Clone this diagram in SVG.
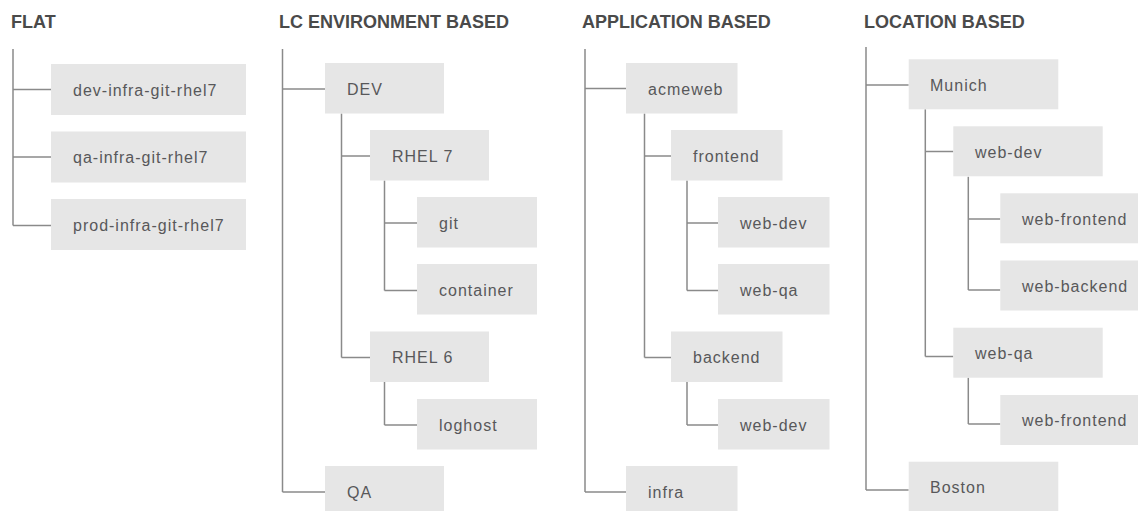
<svg xmlns="http://www.w3.org/2000/svg" width="1138" height="511" viewBox="0 0 1138 511">
<style>
.bg{fill:#ffffff}
.title{font-family:"Liberation Sans",Arial,sans-serif;font-weight:bold;font-size:18px;fill:#4a4a4a}
.box{fill:#e6e6e6}
.lbl{font-family:"Liberation Sans",Arial,sans-serif;font-size:16px;letter-spacing:1px;fill:#58585a}
.ln{stroke:#8a8a8a;stroke-width:1.5;fill:none}
</style>
<rect class="bg" x="0" y="0" width="1138" height="511"/>
<g id="titles">
<text class="title" x="11" y="28">FLAT</text>
<text class="title" x="279" y="28">LC ENVIRONMENT BASED</text>
<text class="title" x="582" y="28">APPLICATION BASED</text>
<text class="title" x="864" y="28">LOCATION BASED</text>
</g>
<g id="connectors">
<!-- FLAT -->
<path class="ln" d="M13 49V225.5M13 89.5H51M13 157H51M13 225.5H51"/>
<!-- LC -->
<path class="ln" d="M282.5 49V492M282.5 89H325M282.5 492H325"/>
<path class="ln" d="M341.5 113.5V357.5M341.5 156H370M341.5 357.5H370"/>
<path class="ln" d="M384.5 180.5V290.5M384.5 223H417M384.5 290.5H417"/>
<path class="ln" d="M384.5 382V425M384.5 425H417"/>
<!-- APP -->
<path class="ln" d="M585 49V492M585 88.5H626M585 492H626"/>
<path class="ln" d="M644.5 113.5V357.5M644.5 156H671M644.5 357.5H671"/>
<path class="ln" d="M687 180.5V290.5M687 223H718M687 290.5H718"/>
<path class="ln" d="M687 382V425M687 425H718"/>
<!-- LOC -->
<path class="ln" d="M866 47V490M866 85H908.7M866 490H908.7"/>
<path class="ln" d="M925.3 109.3V356.5M925.3 151.5H953.3M925.3 356.5H953.3"/>
<path class="ln" d="M968.3 176.7V290M968.3 219H1000.3M968.3 290H1000.3"/>
<path class="ln" d="M968.3 377.7V424M968.3 424H1000.3"/>
</g>
<g id="flat-dev"><rect class="box" x="51" y="64" width="195" height="51"/><text class="lbl" x="73" y="95.5">dev-infra-git-rhel7</text></g>
<g id="flat-qa"><rect class="box" x="51" y="131.5" width="195" height="51"/><text class="lbl" x="73" y="163">qa-infra-git-rhel7</text></g>
<g id="flat-prod"><rect class="box" x="51" y="199" width="195" height="51"/><text class="lbl" x="73" y="230.5">prod-infra-git-rhel7</text></g>

<g id="lc-dev"><rect class="box" x="325" y="63" width="119" height="50.5"/><text class="lbl" x="347" y="94.5">DEV</text></g>
<g id="lc-rhel7"><rect class="box" x="370" y="130" width="119" height="50.5"/><text class="lbl" x="392" y="161.5">RHEL 7</text></g>
<g id="lc-git"><rect class="box" x="417" y="197" width="120" height="50.5"/><text class="lbl" x="439" y="228.5">git</text></g>
<g id="lc-container"><rect class="box" x="417" y="264" width="120" height="50.5"/><text class="lbl" x="439" y="295.5">container</text></g>
<g id="lc-rhel6"><rect class="box" x="370" y="331.5" width="119" height="50.5"/><text class="lbl" x="392" y="363">RHEL 6</text></g>
<g id="lc-loghost"><rect class="box" x="417" y="399" width="120" height="50.5"/><text class="lbl" x="439" y="430.5">loghost</text></g>
<g id="lc-qa"><rect class="box" x="325" y="466" width="119" height="50.5"/><text class="lbl" x="347" y="497.5">QA</text></g>

<g id="app-acmeweb"><rect class="box" x="626" y="63" width="111.5" height="50.5"/><text class="lbl" x="648" y="94.5">acmeweb</text></g>
<g id="app-frontend"><rect class="box" x="671" y="130" width="111.5" height="50.5"/><text class="lbl" x="693" y="161.5">frontend</text></g>
<g id="app-fe-webdev"><rect class="box" x="718" y="197" width="111.5" height="50.5"/><text class="lbl" x="740" y="228.5">web-dev</text></g>
<g id="app-fe-webqa"><rect class="box" x="718" y="264" width="111.5" height="50.5"/><text class="lbl" x="740" y="295.5">web-qa</text></g>
<g id="app-backend"><rect class="box" x="671" y="331.5" width="111.5" height="50.5"/><text class="lbl" x="693" y="363">backend</text></g>
<g id="app-be-webdev"><rect class="box" x="718" y="399" width="111.5" height="50.5"/><text class="lbl" x="740" y="430.5">web-dev</text></g>
<g id="app-infra"><rect class="box" x="626" y="466" width="111.5" height="50.5"/><text class="lbl" x="648" y="497.5">infra</text></g>

<g id="loc-munich"><rect class="box" x="908.7" y="59.3" width="149.6" height="50"/><text class="lbl" x="930" y="90.5">Munich</text></g>
<g id="loc-webdev"><rect class="box" x="953.3" y="126.3" width="149.4" height="50"/><text class="lbl" x="975" y="157.5">web-dev</text></g>
<g id="loc-wd-frontend"><rect class="box" x="1000.3" y="193.3" width="150" height="50"/><text class="lbl" x="1022" y="224.5">web-frontend</text></g>
<g id="loc-wd-backend"><rect class="box" x="1000.3" y="260.5" width="150" height="50"/><text class="lbl" x="1022" y="291.5">web-backend</text></g>
<g id="loc-webqa"><rect class="box" x="953.3" y="327.7" width="149.4" height="50"/><text class="lbl" x="975" y="359">web-qa</text></g>
<g id="loc-wq-frontend"><rect class="box" x="1000.3" y="395" width="150" height="50"/><text class="lbl" x="1022" y="426">web-frontend</text></g>
<g id="loc-boston"><rect class="box" x="908.7" y="461.7" width="149.6" height="50"/><text class="lbl" x="930" y="493">Boston</text></g>
</svg>
